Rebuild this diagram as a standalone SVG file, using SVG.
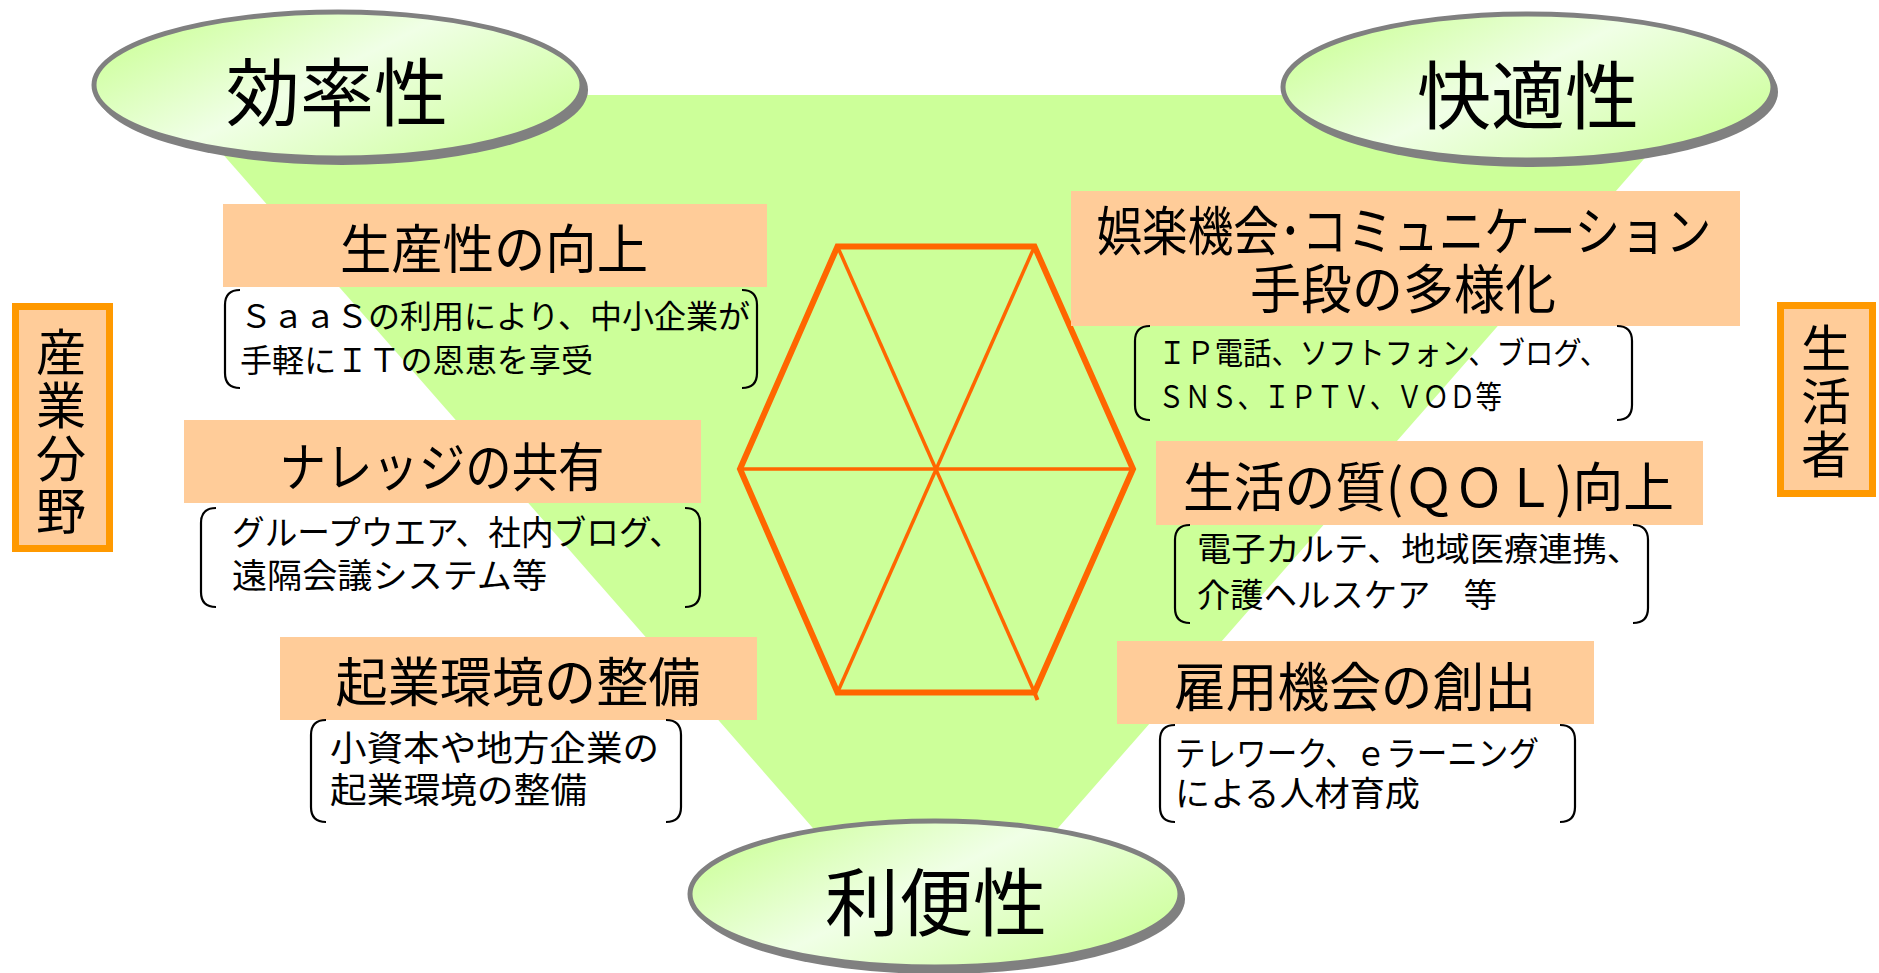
<svg xmlns="http://www.w3.org/2000/svg" width="1879" height="973" viewBox="0 0 1879 973">
<defs>
<linearGradient id="eg" x1="0" y1="0.2" x2="1" y2="0.8">
<stop offset="0" stop-color="#CCFF99"/>
<stop offset="0.45" stop-color="#F0FFE6"/>
<stop offset="1" stop-color="#CCFF99"/>
</linearGradient>
<style>
text{font-family:"Noto Sans CJK JP","Noto Sans",sans-serif;fill:#000}
.big{font-size:74px;text-anchor:middle}
.head{font-size:53px}
.mid{text-anchor:middle}
.peach{fill:#FFCC99}
.side{fill:#FFCC99;stroke:#FF9900;stroke-width:7}
.vt{font-size:50px;writing-mode:vertical-rl;letter-spacing:3px}
.br{fill:none;stroke:#000;stroke-width:2.2}
.sh{fill:#808080}
.el{fill:url(#eg);stroke:#808080;stroke-width:5}
.hexo{fill:none;stroke:#FF6600;stroke-width:6;stroke-linejoin:miter}
.hexi{stroke:#FF6600;stroke-width:3.5}
</style>
</defs>
<rect width="1879" height="973" fill="#fff"/>
<polygon id="field" points="171,95 1700,95 935.5,968" fill="#CCFF99"/>
<g id="hexagon">
<line class="hexi" x1="837.5" y1="246.5" x2="1034.5" y2="692.5"/>
<line class="hexi" x1="1034.5" y1="246.5" x2="837.5" y2="692.5"/>
<line class="hexi" x1="740" y1="469" x2="1133" y2="469"/>
<polygon class="hexo" points="837.5,246.5 1034.5,246.5 1133,469 1034.5,692.5 837.5,692.5 740,469"/>
<line x1="1034.5" y1="692.5" x2="1037.5" y2="700" stroke="#FF6600" stroke-width="4"/>
</g>
<g id="sangyo">
<rect class="side" x="15.5" y="306.5" width="94" height="242"/>
<text class="vt" x="61" y="327">産業分野</text>
</g>
<g id="seikatsusha">
<rect class="side" x="1780.5" y="305.5" width="92" height="188"/>
<text class="vt" x="1826" y="323">生活者</text>
</g>
<g id="seisansei">
<rect class="peach" x="223" y="204" width="544" height="83"/>
<text class="head mid" x="494" y="269" textLength="308" lengthAdjust="spacingAndGlyphs">生産性の向上</text>
<path class="br" d="M240,290 Q225,290 225,305 V373 Q225,388 240,388"/>
<path class="br" d="M742,290 Q757,290 757,305 V373 Q757,388 742,388"/>
<text x="240" y="328" font-size="32" textLength="510" lengthAdjust="spacingAndGlyphs">ＳａａＳの利用により、中小企業が</text>
<text x="240" y="372" font-size="32" textLength="353" lengthAdjust="spacingAndGlyphs">手軽にＩＴの恩恵を享受</text>
</g>
<g id="knowledge">
<rect class="peach" x="184" y="420" width="517" height="83"/>
<text class="head mid" x="442" y="487" textLength="325" lengthAdjust="spacingAndGlyphs">ナレッジの共有</text>
<path class="br" d="M216,508 Q201,508 201,523 V592 Q201,607 216,607"/>
<path class="br" d="M685,508 Q700,508 700,523 V592 Q700,607 685,607"/>
<text x="232" y="545" font-size="34" textLength="450" lengthAdjust="spacingAndGlyphs">グループウエア、社内ブログ、</text>
<text x="232" y="588" font-size="34" textLength="315" lengthAdjust="spacingAndGlyphs">遠隔会議システム等</text>
</g>
<g id="kigyo">
<rect class="peach" x="280" y="637" width="477" height="83"/>
<text class="head mid" x="518" y="702" textLength="365" lengthAdjust="spacingAndGlyphs">起業環境の整備</text>
<path class="br" d="M326,720 Q311,720 311,735 V807 Q311,822 326,822"/>
<path class="br" d="M666,720 Q681,720 681,735 V807 Q681,822 666,822"/>
<text x="330" y="761" font-size="35" textLength="329" lengthAdjust="spacingAndGlyphs">小資本や地方企業の</text>
<text x="330" y="803" font-size="35" textLength="257" lengthAdjust="spacingAndGlyphs">起業環境の整備</text>
</g>
<g id="goraku">
<rect class="peach" x="1071" y="191" width="669" height="135"/>
<text class="head mid" x="1404" y="251" textLength="615" lengthAdjust="spacingAndGlyphs">娯楽機会･コミュニケーション</text>
<text class="head mid" x="1403" y="309" textLength="306" lengthAdjust="spacingAndGlyphs">手段の多様化</text>
<path class="br" d="M1150,326 Q1135,326 1135,341 V405 Q1135,420 1150,420"/>
<path class="br" d="M1617,326 Q1632,326 1632,341 V405 Q1632,420 1617,420"/>
<text x="1158" y="364" font-size="31" textLength="450" lengthAdjust="spacingAndGlyphs">ＩＰ電話、ソフトフォン、ブログ、</text>
<text x="1158" y="408" font-size="31" textLength="344" lengthAdjust="spacingAndGlyphs">ＳＮＳ、ＩＰＴＶ、ＶＯＤ等</text>
</g>
<g id="qol">
<rect class="peach" x="1156" y="441" width="547" height="84"/>
<text class="head" x="1183" y="507" textLength="491" lengthAdjust="spacingAndGlyphs">生活の質(ＱＯＬ)向上</text>
<path class="br" d="M1190,525 Q1175,525 1175,540 V608 Q1175,623 1190,623"/>
<path class="br" d="M1633,525 Q1648,525 1648,540 V608 Q1648,623 1633,623"/>
<text x="1197" y="561" font-size="33" textLength="444" lengthAdjust="spacingAndGlyphs">電子カルテ、地域医療連携、</text>
<text x="1197" y="607" font-size="33" textLength="300" lengthAdjust="spacingAndGlyphs">介護ヘルスケア　等</text>
</g>
<g id="koyo">
<rect class="peach" x="1117" y="641" width="477" height="83"/>
<text class="head mid" x="1355" y="707" textLength="362" lengthAdjust="spacingAndGlyphs">雇用機会の創出</text>
<path class="br" d="M1175,725 Q1160,725 1160,740 V807 Q1160,822 1175,822"/>
<path class="br" d="M1560,725 Q1575,725 1575,740 V807 Q1575,822 1560,822"/>
<text x="1175" y="766" font-size="34" textLength="364" lengthAdjust="spacingAndGlyphs">テレワーク、ｅラーニング</text>
<text x="1175" y="806" font-size="34" textLength="245" lengthAdjust="spacingAndGlyphs">による人材育成</text>
</g>
<g id="kouritsusei">
<ellipse class="sh" cx="342" cy="90" rx="246" ry="75"/>
<ellipse class="el" cx="338" cy="85" rx="244" ry="73"/>
<text class="big" x="337" y="120">効率性</text>
</g>
<g id="kaitekisei">
<ellipse class="sh" cx="1532" cy="92" rx="246" ry="75"/>
<ellipse class="el" cx="1528" cy="87" rx="245" ry="73"/>
<text class="big" x="1528" y="123">快適性</text>
</g>
<g id="benrisei">
<ellipse class="sh" cx="939" cy="899" rx="246" ry="75"/>
<ellipse class="el" cx="935" cy="894" rx="245" ry="73"/>
<text class="big" x="936" y="930">利便性</text>
</g>
<g id="connectors"></g>
</svg>
